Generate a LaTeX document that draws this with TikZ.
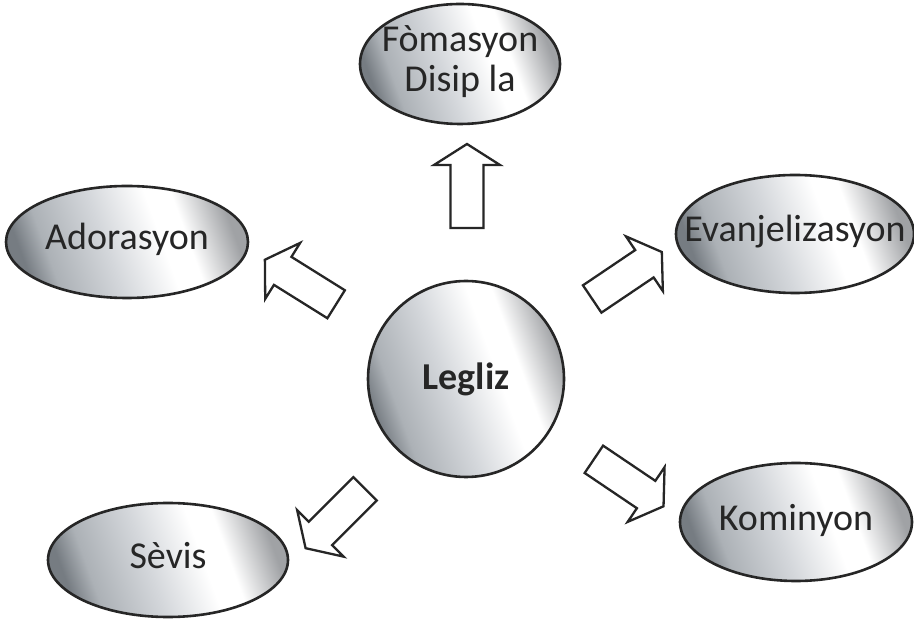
\documentclass[tikz,border=0pt]{standalone}
\usepackage{fontspec}
\setmainfont{Carlito}
\usetikzlibrary{shapes.geometric}
\definecolor{metaldark}{RGB}{118,124,130}
\definecolor{metalmid}{RGB}{172,177,182}
\definecolor{metallight}{RGB}{212,215,219}
\definecolor{metaledge}{RGB}{160,162,165}
\definecolor{textgray}{RGB}{38,38,38}
\pgfdeclarehorizontalshading{metal}{100bp}{color(0bp)=(metaldark); color(25bp)=(metaldark);
  color(31bp)=(metalmid); color(45bp)=(metallight); color(58bp)=(white); color(64bp)=(white);
  color(75bp)=(metaledge); color(100bp)=(metaledge)}
\newcommand{\ovaltext}[1]{\makebox[0pt]{\begin{tabular}{@{}c@{}}#1\end{tabular}}}

\begin{document}
\begin{tikzpicture}[x=0.5pt,y=0.5pt,
    topic/.style={ellipse,draw=black!85,line width=1.3pt,shading=metal,shading angle=20,
      inner sep=0pt,text=textgray,font=\fontsize{19}{20}\selectfont},
    blockarrow/.pic={\draw[black!85,line width=1.15pt,line join=miter,fill=white]
      (-42,-16.5) -- (21,-16.5) -- (21,-33) -- (42,0) -- (21,33) -- (21,16.5) -- (-42,16.5) -- cycle;}]
  \useasboundingbox (0,0) rectangle (914,626);
  % center
  \node[topic,circle,minimum size=98pt,font=\fontsize{19}{20}\selectfont\bfseries] (legliz) at (466,247) {Legliz};
  % topics
  \node[topic,minimum width=100pt,minimum height=60pt] (fomasyon) at (460,562) {\ovaltext{Fòmasyon\\Disip la}};
  \node[topic,minimum width=121pt,minimum height=56pt] (adorasyon) at (127,384) {\ovaltext{Adorasyon}};
  \node[topic,minimum width=119pt,minimum height=59pt] (evanjel) at (795,392) {\ovaltext{Evanjelizasyon}};
  \node[topic,minimum width=116pt,minimum height=59pt] (kominyon) at (796,104) {\ovaltext{Kominyon}};
  \node[topic,minimum width=120pt,minimum height=57pt] (sevis) at (168,66) {\ovaltext{Sèvis}};
  % arrows
  \foreach \x/\y/\a in {467/440/90, 300.5/344/148, 627/350.5/34, 628.7/143.2/-34, 335.3/107.5/225}
    \pic[rotate=\a] at (\x,\y) {blockarrow};
\end{tikzpicture}
\end{document}
